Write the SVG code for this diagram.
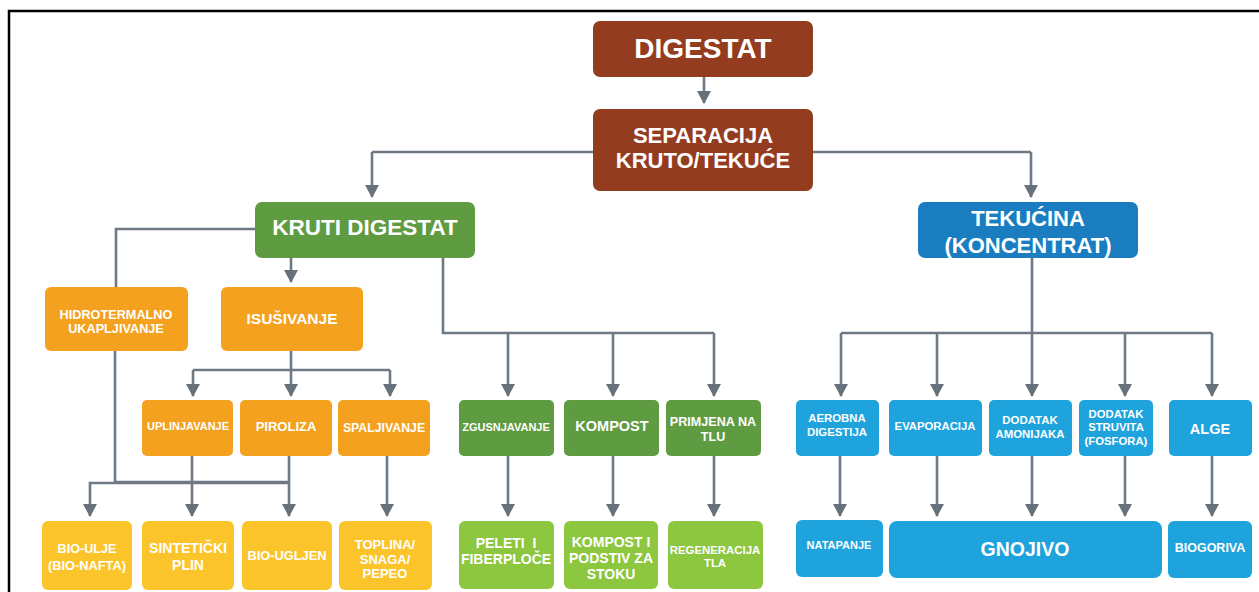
<svg xmlns="http://www.w3.org/2000/svg" width="1259" height="592" viewBox="0 0 1259 592">
<defs>
<marker id="ah" viewBox="0 0 13 14" refX="12" refY="7" markerWidth="13" markerHeight="14" markerUnits="userSpaceOnUse" orient="auto">
<path d="M0 0 L13 7 L0 14 Z" fill="#67717b"/>
</marker>
<style>
text{font-family:"Liberation Sans",Arial,sans-serif;font-weight:bold;fill:#fff;text-anchor:middle;dominant-baseline:central}
.c{fill:none;stroke:#6f7983;stroke-width:2.6}
.a{marker-end:url(#ah)}
.br{fill:#943c1f}
.dg{fill:#5e9b41}
.or{fill:#f3a11f}
.ye{fill:#fcc42b}
.lg{fill:#8dc63f}
.db{fill:#1a7dc0}
.lb{fill:#1ea3dc}
</style>
</defs>
<rect width="1259" height="592" fill="#fff"/>
<path d="M9 592 V11 H1259" fill="none" stroke="#000" stroke-width="2.5"/>

<g id="connectors">
<path class="c a" d="M704 77 V103"/>
<path class="c" d="M593 152 H372"/>
<path class="c a" d="M372 152 V197"/>
<path class="c" d="M813 152 H1031"/>
<path class="c a" d="M1031 152 V197"/>
<path class="c" d="M255 229 H116 V287"/>
<path class="c a" d="M291 258 V282"/>
<path class="c" d="M291 351 V370 M193 370 H390"/>
<path class="c a" d="M193 370 V396"/>
<path class="c a" d="M291 370 V396"/>
<path class="c a" d="M390 370 V396"/>
<path class="c" d="M443 258 V333 H714"/>
<path class="c a" d="M508 333 V396"/>
<path class="c a" d="M613 333 V396"/>
<path class="c a" d="M714 333 V396"/>
<path class="c" d="M1032 258 V333 M841 333 H1212"/>
<path class="c a" d="M841 333 V396"/>
<path class="c a" d="M937 333 V396"/>
<path class="c a" d="M1032 333 V396"/>
<path class="c a" d="M1125 333 V396"/>
<path class="c a" d="M1212 333 V396"/>
<path class="c" d="M115 351 V482 H289"/>
<path class="c a" d="M289 483 H90 V516"/>
<path class="c a" d="M192 456 V516"/>
<path class="c a" d="M289 456 V516"/>
<path class="c a" d="M387 456 V516"/>
<path class="c a" d="M508 456 V516"/>
<path class="c a" d="M613 456 V516"/>
<path class="c a" d="M714 456 V516"/>
<path class="c a" d="M840 456 V516"/>
<path class="c a" d="M937 456 V516"/>
<path class="c a" d="M1032 456 V516"/>
<path class="c a" d="M1125 456 V516"/>
<path class="c a" d="M1212 456 V516"/>
</g>

<g id="digestat"><rect class="br" x="593" y="21" width="220" height="56" rx="7"/><text x="703" y="48" font-size="28">DIGESTAT</text></g>
<g id="separacija"><rect class="br" x="593" y="109" width="220" height="82" rx="7"/><text x="703" y="135" font-size="22">SEPARACIJA</text><text x="703" y="160" font-size="22">KRUTO/TEKUĆE</text></g>
<g id="kruti"><rect class="dg" x="255" y="202" width="220" height="56" rx="7"/><text x="365" y="227" font-size="22.5">KRUTI DIGESTAT</text></g>
<g id="tekucina"><rect class="db" x="918" y="202" width="220" height="56" rx="7"/><text x="1028" y="218" font-size="22">TEKUĆINA</text><text x="1028" y="245" font-size="22">(KONCENTRAT)</text></g>

<g id="hidro"><rect class="or" x="45" y="287" width="143" height="64" rx="6"/><text x="116" y="315" font-size="12.7">HIDROTERMALNO</text><text x="116" y="329" font-size="12.7">UKAPLJIVANJE</text></g>
<g id="isusivanje"><rect class="or" x="221" y="287" width="142" height="64" rx="6"/><text x="292" y="318" font-size="15.5">ISUŠIVANJE</text></g>

<g id="uplinjavanje"><rect class="or" x="142" y="400" width="91" height="56" rx="5"/><text x="188" y="426" font-size="11">UPLINJAVANJE</text></g>
<g id="piroliza"><rect class="or" x="240" y="400" width="92" height="56" rx="5"/><text x="286" y="426" font-size="13">PIROLIZA</text></g>
<g id="spaljivanje"><rect class="or" x="338" y="400" width="92" height="56" rx="5"/><text x="384" y="428" font-size="12.3">SPALJIVANJE</text></g>
<g id="zgusnjavanje"><rect class="dg" x="459" y="400" width="95" height="56" rx="5"/><text x="506" y="427" font-size="11">ZGUSNJAVANJE</text></g>
<g id="kompost"><rect class="dg" x="564" y="400" width="95" height="56" rx="5"/><text x="612" y="426" font-size="14.5">KOMPOST</text></g>
<g id="primjena"><rect class="dg" x="666" y="400" width="95" height="56" rx="5"/><text x="713" y="422" font-size="12.6">PRIMJENA NA</text><text x="713" y="437" font-size="12.6">TLU</text></g>
<g id="aerobna"><rect class="lb" x="796" y="400" width="83" height="56" rx="5"/><text x="837" y="418" font-size="11.4">AEROBNA</text><text x="837" y="432" font-size="11.4">DIGESTIJA</text></g>
<g id="evaporacija"><rect class="lb" x="889" y="400" width="93" height="56" rx="5"/><text x="935" y="426" font-size="11.3">EVAPORACIJA</text></g>
<g id="amonijak"><rect class="lb" x="989" y="400" width="83" height="56" rx="5"/><text x="1030" y="420" font-size="11.4">DODATAK</text><text x="1030" y="434" font-size="11.4">AMONIJAKA</text></g>
<g id="struvit"><rect class="lb" x="1079" y="400" width="74" height="56" rx="5"/><text x="1116" y="414" font-size="11.3">DODATAK</text><text x="1116" y="427" font-size="11.3">STRUVITA</text><text x="1116" y="441" font-size="11.3">(FOSFORA)</text></g>
<g id="alge"><rect class="lb" x="1169" y="400" width="83" height="56" rx="5"/><text x="1210" y="429" font-size="14.5">ALGE</text></g>

<g id="bioulje"><rect class="ye" x="42" y="521" width="90" height="69" rx="6"/><text x="87" y="549" font-size="12.6">BIO-ULJE</text><text x="87" y="565" font-size="12.8">(BIO-NAFTA)</text></g>
<g id="sinteticki"><rect class="ye" x="142" y="521" width="92" height="69" rx="6"/><text x="188" y="548" font-size="14">SINTETIČKI</text><text x="188" y="565" font-size="14">PLIN</text></g>
<g id="biougljen"><rect class="ye" x="242" y="521" width="90" height="69" rx="6"/><text x="287" y="555" font-size="12.8">BIO-UGLJEN</text></g>
<g id="toplina"><rect class="ye" x="339" y="521" width="93" height="69" rx="6"/><text x="385" y="544" font-size="13">TOPLINA/</text><text x="385" y="559" font-size="13">SNAGA/</text><text x="385" y="573" font-size="13">PEPEO</text></g>
<g id="peleti"><rect class="lg" x="459" y="521" width="95" height="68" rx="6"/><text x="506" y="543" font-size="14" xml:space="preserve">PELETI  I</text><text x="506" y="559" font-size="14">FIBERPLOČE</text></g>
<g id="kompoststoku"><rect class="lg" x="564" y="521" width="94" height="68" rx="6"/><text x="611" y="542" font-size="14">KOMPOST I</text><text x="611" y="558" font-size="14">PODSTIV ZA</text><text x="611" y="574" font-size="14">STOKU</text></g>
<g id="regeneracija"><rect class="lg" x="668" y="521" width="95" height="68" rx="6"/><text x="715" y="550" font-size="11.4">REGENERACIJA</text><text x="715" y="563" font-size="11.4">TLA</text></g>
<g id="natapanje"><rect class="lb" x="796" y="520" width="87" height="57" rx="6"/><text x="839" y="545" font-size="11">NATAPANJE</text></g>
<g id="gnojivo"><rect class="lb" x="889" y="521" width="273" height="57" rx="8"/><text x="1025" y="549" font-size="19.5">GNOJIVO</text></g>
<g id="biogoriva"><rect class="lb" x="1168" y="521" width="84" height="57" rx="6"/><text x="1210" y="548" font-size="12.5">BIOGORIVA</text></g>
</svg>
